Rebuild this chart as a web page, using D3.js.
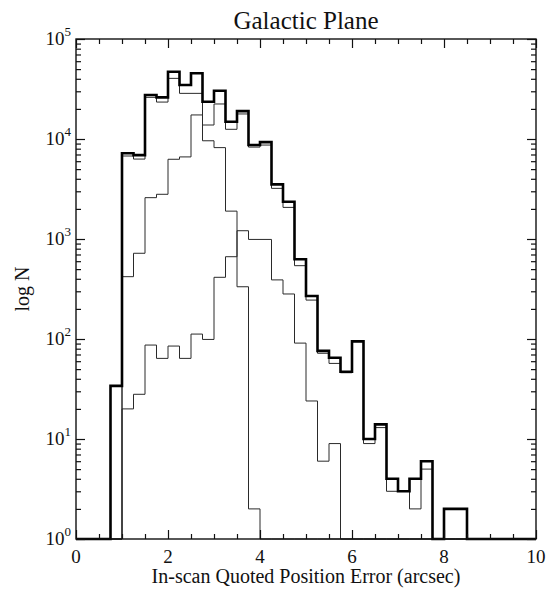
<!DOCTYPE html>
<html>
<head>
<meta charset="utf-8">
<script src="https://cdn.jsdelivr.net/npm/d3@7"></script>
<style>
  body { margin: 0; background: #fff; }
  text { font-family: "Liberation Serif", "Times New Roman", serif; fill: #111; }
</style>
</head>
<body>
<div id="chart"></div>
<script>
// Histogram bins: 0.25 arcsec wide, first bin starts at 0.75
var binStart = 0.75;
var binWidth = 0.25;

// counts per bin (0.75, 1.00, 1.25, ... 8.25)
var totalCounts = [34, 7200, 6900, 27500, 26100, 47100, 34700, 45400, 23600, 30400,
    14900, 19000, 8700, 9300, 3520, 2360, 627, 269, 76, 65,
    47, 95, 10, 14, 4, 3, 4, 6, 0, 2, 2];
var subsetCounts = [0, 6760, 6300, 26100, 23400, 40400, 28600, 28600, 13800, 22400,
    12500, 17800, 8300, 8700, 3210, 2070, 541, 245, 72, 57,
    46, 93, 9, 13, 3, 3, 2, 5, 0, 0, 0];
var lowErrCounts = [0, 420, 720, 2590, 2800, 6270, 6620, 17400, 9600, 8200,
    1900, 333, 2, 0, 0, 0, 0, 0, 0, 0,
    0, 0, 0, 0, 0, 0, 0, 0, 0, 0, 0];
var highErrCounts = [0, 20, 28, 87, 64, 85, 64, 112, 99, 414,
    665, 1210, 990, 990, 390, 282, 91, 24, 6, 9,
    0, 0, 0, 0, 0, 0, 0, 0, 0, 0, 0];

var xTickLabels = ["0", "2", "4", "6", "8", "10"];
var yDecades = [0, 1, 2, 3, 4, 5];

// Set up chart area
//=====================================================================
var svgWidth = 550;
var svgHeight = 593;
var margin = { top: 39, right: 14, bottom: 54, left: 76 };
var width = svgWidth - margin.left - margin.right;
var height = svgHeight - margin.top - margin.bottom;

var svg = d3.select("#chart")
    .append("svg")
    .attr("width", svgWidth)
    .attr("height", svgHeight);

var chartGroup = svg.append("g")
    .attr("transform", `translate(${margin.left}, ${margin.top})`);

// Scales
var xScale = d3.scaleLinear().domain([0, 10]).range([0, width]);
var yScale = d3.scaleLog().domain([1, 1e5]).range([height, 0]);

// turn bin counts into step points, zeros sit on the bottom axis
function stepPoints(counts) {
    var pts = [{ x: 0, v: 1 }];
    counts.forEach(function (c, i) {
        pts.push({ x: binStart + i * binWidth, v: Math.max(c, 1) });
    });
    pts.push({ x: binStart + counts.length * binWidth, v: 1 });
    pts.push({ x: 10, v: 1 });
    return pts;
}

var stepLine = d3.line()
    .x(d => xScale(d.x))
    .y(d => yScale(d.v))
    .curve(d3.curveStepAfter);

// Thin histograms first, total on top
[lowErrCounts, highErrCounts, subsetCounts].forEach(function (counts) {
    chartGroup.append("path")
        .attr("d", stepLine(stepPoints(counts)))
        .attr("fill", "none")
        .attr("stroke", "#2a2a2a")
        .attr("stroke-width", 1);
});

chartGroup.append("path")
    .attr("d", stepLine(stepPoints(totalCounts)))
    .attr("fill", "none")
    .attr("stroke", "#000")
    .attr("stroke-width", 2.6);

// Axes: ticks point inward on all four sides
// ==============================
var majorX = d3.range(0, 10.01, 2);
var minorX = d3.range(0, 10.01, 0.5).filter(v => v % 2 !== 0);
var majorY = yDecades.map(d => Math.pow(10, d));
var minorY = [];
yDecades.slice(0, -1).forEach(function (d) {
    for (var k = 2; k <= 9; k++) minorY.push(k * Math.pow(10, d));
});

function addX(ticks, size, bottom) {
    var ax = (bottom ? d3.axisBottom(xScale) : d3.axisTop(xScale))
        .tickValues(ticks).tickSize(-size).tickFormat("");
    chartGroup.append("g")
        .attr("class", "axis")
        .attr("transform", `translate(0, ${bottom ? height : 0})`)
        .call(ax);
}
function addY(ticks, size, left) {
    var ax = (left ? d3.axisLeft(yScale) : d3.axisRight(yScale))
        .tickValues(ticks).tickSize(-size).tickFormat("");
    chartGroup.append("g")
        .attr("class", "axis")
        .attr("transform", `translate(${left ? 0 : width}, 0)`)
        .call(ax);
}
addX(majorX, 9, true); addX(minorX, 5, true);
addX(majorX, 9, false); addX(minorX, 5, false);
addY(majorY, 9, true); addY(minorY, 5, true);
addY(majorY, 9, false); addY(minorY, 5, false);

chartGroup.selectAll(".axis path").remove();
chartGroup.selectAll(".axis line").attr("stroke", "#111").attr("stroke-width", 1.2);

// frame
chartGroup.append("rect")
    .attr("width", width)
    .attr("height", height)
    .attr("fill", "none")
    .attr("stroke", "#111")
    .attr("stroke-width", 1.4);

// Tick labels
chartGroup.append("g")
    .selectAll("text")
    .data(xTickLabels)
    .enter()
    .append("text")
    .attr("x", d => xScale(+d))
    .attr("y", height + 24)
    .attr("text-anchor", "middle")
    .style("font-size", "19px")
    .text(d => d);

var yLabels = chartGroup.append("g")
    .selectAll("text")
    .data(yDecades)
    .enter()
    .append("text")
    .attr("x", -5)
    .attr("y", d => yScale(Math.pow(10, d)) + 6)
    .attr("text-anchor", "end")
    .style("font-size", "19px");
yLabels.append("tspan").text("10");
yLabels.append("tspan")
    .attr("dy", -9)
    .style("font-size", "13px")
    .text(d => d);

// Titles
chartGroup.append("text")
    .attr("x", width / 2)
    .attr("y", -10)
    .attr("text-anchor", "middle")
    .style("font-size", "25px")
    .text("Galactic Plane");

chartGroup.append("text")
    .attr("x", width / 2)
    .attr("y", height + 44)
    .attr("text-anchor", "middle")
    .style("font-size", "20px")
    .text("In-scan Quoted Position Error (arcsec)");

chartGroup.append("text")
    .attr("transform", "rotate(-90)")
    .attr("x", -height / 2)
    .attr("y", -47)
    .attr("text-anchor", "middle")
    .style("font-size", "20px")
    .text("log N");
</script>
</body>
</html>
